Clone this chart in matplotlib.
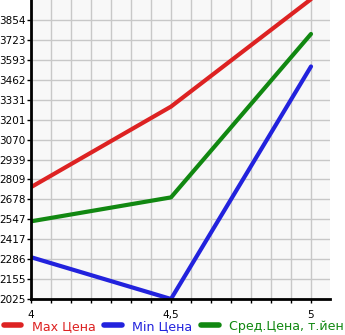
import numpy as np
import matplotlib
matplotlib.use("Agg")
import matplotlib.pyplot as plt
from matplotlib.ticker import FixedLocator, MultipleLocator

x = [4, 4.5, 5]
max_price = [2758, 3286, 3990]
min_price = [2299, 2025, 3549]
avg_price = [2534, 2691, 3762]
series_names = ["Max Цена", "Min Цена", "Сред.Цена, т.йен"]
colors = ["#dd2222", "#2222dd", "#118811"]
y_ticks = [2025, 2155, 2286, 2417, 2547, 2678, 2809, 2939, 3070, 3201, 3331, 3462, 3593, 3723, 3854]
x_ticks = [4, 4.5, 5]
x_labels = ["4", "4,5", "5"]

fig = plt.figure(figsize=(3.45, 3.35), dpi=100)
ax = fig.add_axes([31/345, 36/335, 299/345, 299/335])
ax.set_facecolor("#f8f8f8")

for vals, c, name in zip([max_price, min_price, avg_price], colors, series_names):
    ax.plot(x, vals, color=c, lw=3, label=name, solid_capstyle="round", clip_on=True)

step = (y_ticks[-1] - y_ticks[0]) / 14
ax.set_ylim(y_ticks[0], y_ticks[-1] + step)
ax.set_xlim(4, 4 + 299/280)
ax.yaxis.set_major_locator(FixedLocator(y_ticks))
ax.set_yticklabels([str(v) for v in y_ticks])
ax.xaxis.set_major_locator(FixedLocator(x_ticks))
ax.set_xticklabels(x_labels)
ax.xaxis.set_minor_locator(MultipleLocator(1/14))
ax.grid(True, which="both", axis="x", color="#c8c8c8", lw=1)
ax.grid(True, which="major", axis="y", color="#c8c8c8", lw=1)
ax.set_axisbelow(True)

for s in ["top", "right"]:
    ax.spines[s].set_visible(False)
ax.spines["left"].set_linewidth(2)
ax.spines["bottom"].set_linewidth(2)
ax.tick_params(axis="y", labelsize=7.5, length=3, pad=1, width=1)
ax.tick_params(axis="x", which="both", labelsize=7.5, length=3, width=1, pad=5)

leg = fig.legend(loc="lower left", bbox_to_anchor=(0.0, -0.005), ncol=3, frameon=False,
                 fontsize=9.1, handlelength=1.4, columnspacing=0.7, handletextpad=0.8,
                 borderaxespad=0.0, borderpad=0.3)
for t, c in zip(leg.get_texts(), colors):
    t.set_color(c)
for h in leg.get_lines():
    h.set_linewidth(4)
    h.set_solid_capstyle("round")

fig.savefig("out.png", dpi=100)
